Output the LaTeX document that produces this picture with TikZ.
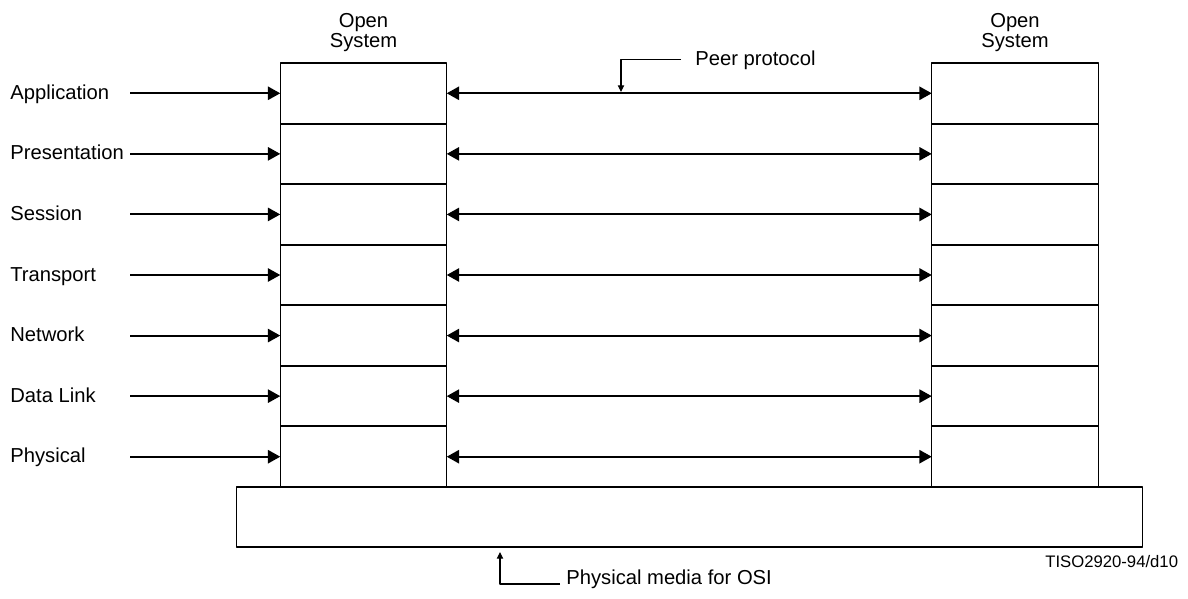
\documentclass[tikz,border=0pt]{standalone}
\usepackage{fontspec}
\setmainfont{Liberation Sans}
\usetikzlibrary{arrows.meta,positioning}
\begin{document}
\begin{tikzpicture}[x=0.02cm,y=-0.02cm,>={Triangle[length=7pt,width=7.5pt]},
  font=\fontsize{11.5}{10.2}\selectfont, line join=round,
  layer/.style={draw,line width=0.6pt,minimum width=3.33cm,minimum height=1.2114cm,inner sep=0pt,outer sep=0pt},
  lbl/.style={anchor=base west,inner sep=0pt},
  link/.style={line width=1.1pt},
  callout/.style={line width=0.6pt,-{Triangle[length=3.8pt,width=3.6pt]}}]
\def\xL{363.5} \def\xR{1015} % centres of the two stacks
\def\ytop{63} \def\h{60.57}
\useasboundingbox (0,0) rectangle (1188,599);
% layers
\foreach \name [count=\i] in {Application,Presentation,Session,Transport,Network,Data Link,Physical}{
  \node[layer] (L\i) at (\xL,\ytop+\h*\i-\h/2) {};
  \node[layer] (R\i) at (\xR,\ytop+\h*\i-\h/2) {};
  \node[lbl] (n\i) at (10,\ytop+\h*\i-\h/2+6) {\name};
  \coordinate (s\i) at (130,\ytop+\h*\i-\h/2);
  \draw[link,->] (s\i) -- (L\i.west);
  \draw[link,<->] (L\i.east) -- (R\i.west);
}
\foreach \i in {1,...,6}{
  \draw[link] (L\i.south west) -- (L\i.south east);
  \draw[link] (R\i.south west) -- (R\i.south east);
}
\node[align=center,above=3pt of L1] (osL) {Open\\System};
\node[align=center,above=3pt of R1] (osR) {Open\\System};
% physical media
\node[draw,line width=0.6pt,minimum width=18.14cm,minimum height=1.2cm,inner sep=0pt] (media) at (689.5,517) {};
% callouts
\node[anchor=base west,inner xsep=0.28cm,inner ysep=0pt] (peer) at (681,65) {Peer protocol};
\coordinate (pp) at (621,92);
\draw[callout] (peer.west) -| (pp);
\node[anchor=base west,inner xsep=0.12cm,inner ysep=0pt] (phys) at (560,584) {Physical media for OSI};
\coordinate (pm) at (500,552);
\draw[callout] (phys.base west) -| (pm);
\node[anchor=base west,inner sep=0pt,font=\fontsize{9.5}{11}\selectfont] (tiso) at (1045,567) {TISO2920-94/d10};
\end{tikzpicture}
\end{document}
